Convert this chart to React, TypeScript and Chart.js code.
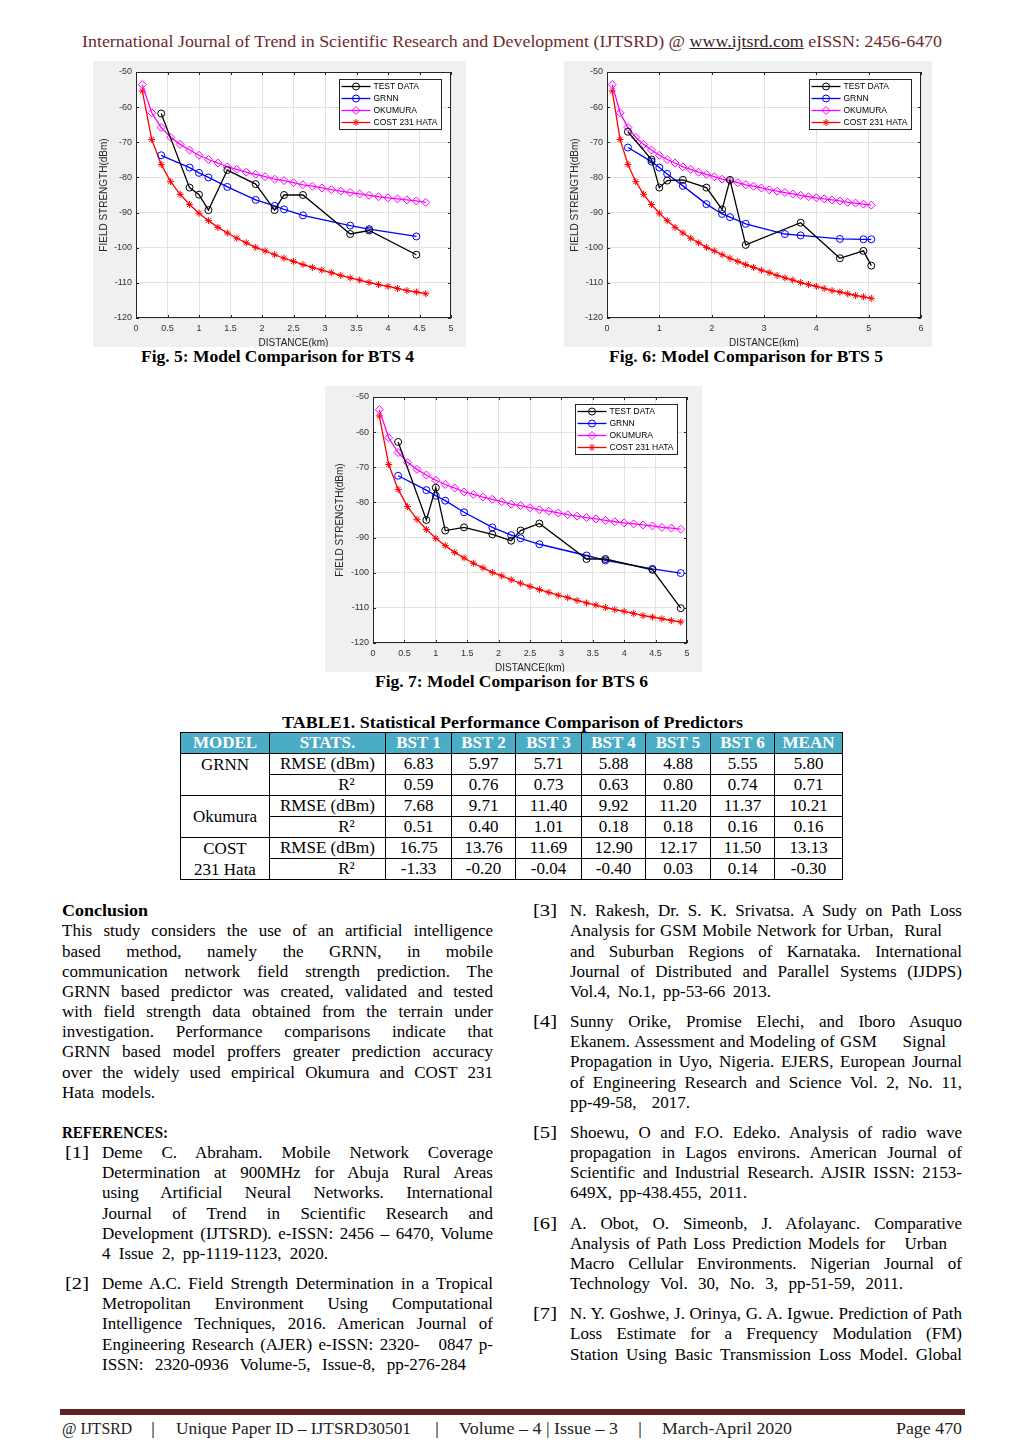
import React, { useEffect, useLayoutEffect, useRef } from "react";
import { Chart, registerables } from "chart.js";
Chart.register(...registerables);

// ---------- chart data ----------
const modelDistKm = [0.1, 0.25, 0.4, 0.55, 0.7, 0.85, 1.0, 1.15, 1.3, 1.45, 1.6, 1.75, 1.9, 2.05, 2.2, 2.35, 2.5, 2.65, 2.8, 2.95, 3.1, 3.25, 3.4, 3.55, 3.7, 3.85, 4.0, 4.15, 4.3, 4.45, 4.6, 4.75, 4.9, 5.05];
const okumuraDbm = [-53.6, -61.6, -65.8, -68.6, -70.6, -72.2, -73.7, -74.9, -75.9, -77.0, -77.7, -78.5, -79.1, -79.8, -80.5, -80.9, -81.5, -82.1, -82.5, -83.0, -83.5, -83.9, -84.3, -84.7, -85.1, -85.5, -85.8, -86.1, -86.4, -86.7, -87.1, -87.3, -87.6, -87.9];
const costHataDbm = [-55.4, -69.2, -76.3, -81.2, -84.8, -87.7, -90.2, -92.3, -94.2, -95.8, -97.3, -98.6, -99.9, -100.9, -102.0, -103.0, -103.9, -104.8, -105.6, -106.4, -107.1, -107.9, -108.6, -109.2, -109.9, -110.5, -111.0, -111.6, -112.2, -112.6, -113.1, -113.6, -114.0, -114.4];

const bts4Dist = [0.4, 0.85, 1.0, 1.15, 1.45, 1.9, 2.2, 2.35, 2.65, 3.4, 3.7, 4.45];
const bts4Test = [-61.8, -82.9, -84.9, -89.3, -77.9, -81.9, -89.3, -85.0, -85.0, -96.1, -95.1, -102.0];
const bts4Grnn = [-73.7, -77.2, -78.7, -80.0, -82.7, -86.4, -88.1, -89.1, -90.8, -93.7, -94.7, -96.8];

const bts5TestDist = [0.4, 0.85, 1.0, 1.15, 1.45, 1.9, 2.2, 2.35, 2.65, 3.7, 4.45, 4.9, 5.05];
const bts5Test = [-67.0, -74.9, -82.9, -80.9, -80.7, -82.9, -89.1, -80.7, -99.2, -92.9, -103.0, -100.9, -105.1];
const bts5GrnnDist = [0.4, 0.85, 1.0, 1.15, 1.45, 1.9, 2.2, 2.35, 2.65, 3.4, 3.7, 4.45, 4.9, 5.05];
const bts5Grnn = [-71.5, -75.5, -77.2, -79.0, -82.4, -87.6, -90.4, -91.3, -93.2, -96.1, -96.5, -97.5, -97.6, -97.6];

const bts6Dist = [0.4, 0.85, 1.0, 1.15, 1.45, 1.9, 2.2, 2.35, 2.65, 3.4, 3.7, 4.45, 4.9];
const bts6Test = [-62.8, -85.0, -75.8, -88.0, -87.1, -89.1, -90.9, -88.0, -86.0, -96.1, -96.1, -99.2, -110.1];
const bts6Grnn = [-72.4, -76.5, -78.1, -79.5, -82.8, -87.1, -89.3, -90.2, -91.9, -95.1, -96.5, -98.9, -100.1];

const seriesLabels = ["TEST DATA", "GRNN", "OKUMURA", "COST 231 HATA"];
const seriesColors = ["#000000", "#0000ff", "#ff00ff", "#ff0000"];
const seriesMarkers = ["circle", "circle", "rectRot", "star"];

// ---------- table data ----------
const tableCols = ["MODEL", "STATS.", "BST 1", "BST 2", "BST 3", "BST 4", "BST 5", "BST 6", "MEAN"];
const statNames = ["RMSE (dBm)", "R²"];
const grnnRmse = ["6.83", "5.97", "5.71", "5.88", "4.88", "5.55", "5.80"];
const grnnR2 = ["0.59", "0.76", "0.73", "0.63", "0.80", "0.74", "0.71"];
const okumuraRmse = ["7.68", "9.71", "11.40", "9.92", "11.20", "11.37", "10.21"];
const okumuraR2 = ["0.51", "0.40", "1.01", "0.18", "0.18", "0.16", "0.16"];
const costRmse = ["16.75", "13.76", "11.69", "12.90", "12.17", "11.50", "13.13"];
const costR2 = ["-1.33", "-0.20", "-0.04", "-0.40", "0.03", "0.14", "-0.30"];

const SERIF = '"Liberation Serif", "Times New Roman", serif';
const SANS = '"Liberation Sans", Arial, sans-serif';

// ---------- chart ----------
function drawMarker(ctx: CanvasRenderingContext2D, style: string, x: number, y: number, r: number) {
  ctx.beginPath();
  if (style === "circle") {
    ctx.arc(x, y, r, 0, Math.PI * 2);
  } else if (style === "rectRot") {
    ctx.moveTo(x, y - r); ctx.lineTo(x + r, y); ctx.lineTo(x, y + r); ctx.lineTo(x - r, y); ctx.closePath();
  } else {
    ctx.moveTo(x - r, y); ctx.lineTo(x + r, y);
    ctx.moveTo(x, y - r); ctx.lineTo(x, y + r);
    const d = r * 0.707;
    ctx.moveTo(x - d, y - d); ctx.lineTo(x + d, y + d);
    ctx.moveTo(x - d, y + d); ctx.lineTo(x + d, y - d);
  }
  ctx.stroke();
}

const matlabPlugin = {
  id: "matlabLook",
  beforeDraw(chart: any) {
    const { ctx, width, height, chartArea: a } = chart;
    ctx.save();
    ctx.fillStyle = "#f0f0f0";
    ctx.fillRect(0, 0, width, height);
    ctx.fillStyle = "#ffffff";
    ctx.fillRect(a.left, a.top, a.right - a.left, a.bottom - a.top);
    ctx.restore();
  },
  afterDraw(chart: any) {
    const { ctx, chartArea: a } = chart;
    const xs = chart.scales.x, ys = chart.scales.y;
    ctx.save();
    ctx.strokeStyle = "#262626";
    ctx.lineWidth = 1;
    ctx.strokeRect(a.left + 0.5, a.top + 0.5, a.right - a.left - 1, a.bottom - a.top - 1);
    ctx.beginPath();
    xs.ticks.forEach((t: any) => {
      const p = Math.round(xs.getPixelForValue(t.value)) + 0.5;
      ctx.moveTo(p, a.bottom); ctx.lineTo(p, a.bottom - 3);
      ctx.moveTo(p, a.top); ctx.lineTo(p, a.top + 3);
    });
    ys.ticks.forEach((t: any) => {
      const p = Math.round(ys.getPixelForValue(t.value)) + 0.5;
      ctx.moveTo(a.left, p); ctx.lineTo(a.left + 3, p);
      ctx.moveTo(a.right, p); ctx.lineTo(a.right - 3, p);
    });
    ctx.stroke();

    // legend
    const bw = 102, bh = 50;
    const bx = Math.round(a.right - 10 - bw) + 0.5, by = Math.round(a.top + 7) + 0.5;
    ctx.fillStyle = "#ffffff";
    ctx.fillRect(bx, by, bw, bh);
    ctx.strokeStyle = "#262626";
    ctx.strokeRect(bx, by, bw, bh);
    chart.data.datasets.forEach((ds: any, i: number) => {
      const cy = by + 7 + i * 12;
      ctx.strokeStyle = ds.borderColor;
      ctx.lineWidth = 1.3;
      ctx.beginPath();
      ctx.moveTo(bx + 2, cy); ctx.lineTo(bx + 31, cy);
      ctx.stroke();
      ctx.lineWidth = 1;
      drawMarker(ctx, ds.pointStyle, bx + 16.5, cy, ds.pointStyle === "rectRot" ? 4 : 3.5);
      ctx.fillStyle = "#000000";
      ctx.font = `8.5px ${SANS}`;
      ctx.textBaseline = "middle";
      ctx.textAlign = "left";
      ctx.fillText(ds.label, bx + 34, cy + 0.5);
    });
    ctx.restore();
  },
};

type ChartProps = {
  left: number; top: number; width: number; height: number;
  padLeft: number; padRight: number; padTop: number; padBottom: number;
  xMax: number; xStep: number; yTitlePad: number;
  testX: number[]; testY: number[]; grnnX: number[]; grnnY: number[]; modelCount: number;
};

function FieldChart(p: ChartProps) {
  const ref = useRef<HTMLCanvasElement>(null);
  useEffect(() => {
    const xsList = [p.testX, p.grnnX, modelDistKm.slice(0, p.modelCount), modelDistKm.slice(0, p.modelCount)];
    const ysList = [p.testY, p.grnnY, okumuraDbm.slice(0, p.modelCount), costHataDbm.slice(0, p.modelCount)];
    const datasets = seriesLabels.map((label, i) => ({
      label,
      data: xsList[i].map((x, j) => ({ x, y: ysList[i][j] })),
      borderColor: seriesColors[i],
      backgroundColor: "rgba(0,0,0,0)",
      borderWidth: 1.3,
      pointStyle: seriesMarkers[i],
      pointRadius: seriesMarkers[i] === "rectRot" ? 4 : 3.5,
      pointBorderColor: seriesColors[i],
      pointBackgroundColor: "rgba(0,0,0,0)",
      pointBorderWidth: 1,
      tension: 0,
      fill: false,
    }));
    const tickFont = { family: SANS, size: 9 };
    const chart = new Chart(ref.current as HTMLCanvasElement, {
      type: "line",
      data: { datasets } as any,
      options: {
        animation: false,
        responsive: false,
        maintainAspectRatio: false,
        layout: { padding: { left: 0, right: p.padRight, top: p.padTop, bottom: 0 } },
        plugins: { legend: { display: false }, tooltip: { enabled: false } },
        scales: {
          x: {
            type: "linear", min: 0, max: p.xMax,
            ticks: { stepSize: p.xStep, font: tickFont, color: "#333333", padding: 5, maxRotation: 0, autoSkip: false,
              callback: (v: any) => String(Math.round(Number(v) * 100) / 100) },
            grid: { color: "#e2e2e2", drawTicks: false, lineWidth: 1 },
            border: { display: false },
            title: { display: true, text: "DISTANCE(km)", font: { family: SANS, size: 10, lineHeight: 1.2 }, color: "#262626", padding: { top: 0, bottom: -2 } },
            afterFit: (s: any) => { s.height = p.padBottom; },
          },
          y: {
            type: "linear", min: -120, max: -50,
            ticks: { stepSize: 10, font: tickFont, color: "#333333", padding: 4 },
            grid: { color: "#e2e2e2", drawTicks: false, lineWidth: 1 },
            border: { display: false },
            title: { display: true, text: "FIELD STRENGTH(dBm)", font: { family: SANS, size: 10, lineHeight: 1.2 }, color: "#262626", padding: { top: p.yTitlePad, bottom: 0 } },
            afterFit: (s: any) => { s.width = p.padLeft; },
          },
        },
      } as any,
      plugins: [matlabPlugin as any],
    });
    return () => chart.destroy();
  }, []);
  return (
    <canvas
      ref={ref}
      width={p.width}
      height={p.height}
      style={{ position: "absolute", left: p.left, top: p.top, width: p.width, height: p.height }}
    />
  );
}

// ---------- text helpers ----------
type LineProps = {
  x: number; cy: number; w: number; text?: string; size?: number; bold?: boolean;
  color?: string; justify?: boolean; family?: string; children?: any;
};

function TextLine({ x, cy, w, text, size = 17, bold = false, color = "#000", justify = true, family = SERIF, children }: LineProps) {
  const ref = useRef<HTMLSpanElement>(null);
  useLayoutEffect(() => {
    const el = ref.current;
    if (!el) return;
    el.style.wordSpacing = "0px";
    el.style.transform = "";
    const nat = el.getBoundingClientRect().width;
    const spaces = ((text || "").match(/ /g) || []).length;
    if (justify && text && nat < w && spaces > 0) {
      el.style.wordSpacing = (w - nat) / spaces + "px";
    } else if (nat > 0) {
      el.style.transform = `scaleX(${w / nat})`;
    }
  }, [text, w]);
  return (
    <span
      ref={ref}
      style={{
        position: "absolute", left: x, top: cy - 0.51 * size, fontSize: size, lineHeight: 1,
        whiteSpace: "pre", fontWeight: bold ? 700 : 400, color, transformOrigin: "0 0", fontFamily: family,
      }}
    >
      {children ?? text}
    </span>
  );
}

const PITCH = 20.15;
const BASE = 911;
const rowY = (n: number) => BASE + PITCH * n;

type Para = { num?: string; startRow: number; lines: [string, number][] };

const leftTextX = 102, leftFull = 391;
const rightTextX = 570, rightFull = 392;

const conclusionLines: [string, number][] = [
  ["This study considers the use of an artificial intelligence", 431],
  ["based method, namely the GRNN, in mobile", 431],
  ["communication network field strength prediction. The", 431],
  ["GRNN based predictor was created, validated and tested", 431],
  ["with field strength data obtained from the terrain under", 431],
  ["investigation. Performance comparisons indicate that", 431],
  ["GRNN based model proffers greater prediction accuracy", 431],
  ["over the widely used empirical Okumura and COST 231", 431],
  ["Hata models.", 93],
];

const leftRefs: Para[] = [
  {
    num: "[1]", startRow: 12, lines: [
      ["Deme C. Abraham. Mobile Network Coverage", leftFull],
      ["Determination at 900MHz for Abuja Rural Areas", leftFull],
      ["using Artificial Neural Networks. International", leftFull],
      ["Journal of Trend in Scientific Research and", leftFull],
      ["Development (IJTSRD). e-ISSN: 2456 – 6470, Volume", leftFull],
      ["4 Issue 2, pp-1119-1123, 2020.", 226],
    ],
  },
  {
    num: "[2]", startRow: 18.5, lines: [
      ["Deme A.C. Field Strength Determination in a Tropical", leftFull],
      ["Metropolitan Environment Using Computational", leftFull],
      ["Intelligence Techniques, 2016. American Journal of", leftFull],
      ["Engineering Research (AJER) e-ISSN: 2320-   0847 p-", leftFull],
      ["ISSN: 2320-0936 Volume-5, Issue-8, pp-276-284", 364],
    ],
  },
];

const rightRefs: Para[] = [
  {
    num: "[3]", startRow: 0, lines: [
      ["N. Rakesh, Dr. S. K. Srivatsa. A Sudy on Path Loss", rightFull],
      ["Analysis for GSM Mobile Network for Urban,  Rural", 372],
      ["and Suburban Regions of Karnataka. International", rightFull],
      ["Journal of Distributed and Parallel Systems (IJDPS)", rightFull],
      ["Vol.4, No.1, pp-53-66 2013.", 201],
    ],
  },
  {
    num: "[4]", startRow: 5.5, lines: [
      ["Sunny Orike, Promise Elechi, and Iboro Asuquo", rightFull],
      ["Ekanem. Assessment and Modeling of GSM     Signal", 376],
      ["Propagation in Uyo, Nigeria. EJERS, European Journal", rightFull],
      ["of Engineering Research and Science Vol. 2, No. 11,", rightFull],
      ["pp-49-58, 2017.", 120],
    ],
  },
  {
    num: "[5]", startRow: 11, lines: [
      ["Shoewu, O and F.O. Edeko. Analysis of radio wave", rightFull],
      ["propagation in Lagos environs. American Journal of", rightFull],
      ["Scientific and Industrial Research. AJSIR ISSN: 2153-", rightFull],
      ["649X, pp-438.455, 2011.", 177],
    ],
  },
  {
    num: "[6]", startRow: 15.5, lines: [
      ["A. Obot, O. Simeonb, J. Afolayanc. Comparative", rightFull],
      ["Analysis of Path Loss Prediction Models for   Urban", 377],
      ["Macro Cellular Environments. Nigerian Journal of", rightFull],
      ["Technology Vol. 30, No. 3, pp-51-59, 2011.", 333],
    ],
  },
  {
    num: "[7]", startRow: 20, lines: [
      ["N. Y. Goshwe, J. Orinya, G. A. Igwue. Prediction of Path", rightFull],
      ["Loss Estimate for a Frequency Modulation (FM)", rightFull],
      ["Station Using Basic Transmission Loss Model. Global", rightFull],
    ],
  },
];

function Refs({ paras, numX, textX }: { paras: Para[]; numX: number; textX: number }) {
  return (
    <>
      {paras.map((p, pi) => (
        <React.Fragment key={pi}>
          <TextLine x={numX} cy={rowY(p.startRow)} w={24} text={p.num} justify={false} />
          {p.lines.map(([t, w], li) => (
            <TextLine key={li} x={textX} cy={rowY(p.startRow + li)} w={w} text={t} />
          ))}
        </React.Fragment>
      ))}
    </>
  );
}

// ---------- table ----------
const colEdges = [181, 270, 386, 452, 516, 582, 646, 711, 775, 843];
const rowEdges = [733, 754, 775, 796, 817, 838, 859, 880];

function Cell({ c0, c1, r0, r1, bg, children, align = "center", padLeft = 0, valign = "center" }: any) {
  return (
    <div
      style={{
        position: "absolute", left: colEdges[c0], top: rowEdges[r0],
        width: colEdges[c1] - colEdges[c0], height: rowEdges[r1] - rowEdges[r0],
        boxSizing: "border-box", borderRight: "1px solid #000", borderBottom: "1px solid #000",
        background: bg || "transparent", display: "flex", flexDirection: "column",
        justifyContent: valign === "top" ? "flex-start" : "center", alignItems: align,
        paddingLeft: padLeft, fontSize: 17, lineHeight: "20px", fontFamily: SERIF, whiteSpace: "pre",
      }}
    >
      {children}
    </div>
  );
}

function StatsTable() {
  const groups = [
    { name: ["GRNN"], vals: [grnnRmse, grnnR2], valign: "top" },
    { name: ["Okumura"], vals: [okumuraRmse, okumuraR2], valign: "center" },
    { name: ["COST", "231 Hata"], vals: [costRmse, costR2], valign: "center" },
  ];
  const cells: any[] = [];
  tableCols.forEach((h, ci) => {
    cells.push(
      <Cell key={"h" + ci} c0={ci} c1={ci + 1} r0={0} r1={1} bg="#4bacc6">
        <span style={{ color: "#fff", fontWeight: 700 }}>{h}</span>
      </Cell>
    );
  });
  groups.forEach((g, gi) => {
    const r = 1 + gi * 2;
    cells.push(
      <Cell key={"m" + gi} c0={0} c1={1} r0={r} r1={r + 2} valign={g.valign}>
        {g.name.map((n, k) => (
          <span key={k} style={{ display: "block", height: 21, lineHeight: "21px" }}>{n}</span>
        ))}
      </Cell>
    );
    g.vals.forEach((row, si) => {
      cells.push(
        <Cell key={`s${gi}-${si}`} c0={1} c1={2} r0={r + si} r1={r + si + 1} padLeft={si === 1 ? 38 : 0}>
          {statNames[si]}
        </Cell>
      );
      row.forEach((v, vi) => {
        cells.push(
          <Cell key={`v${gi}-${si}-${vi}`} c0={2 + vi} c1={3 + vi} r0={r + si} r1={r + si + 1}>
            {v}
          </Cell>
        );
      });
    });
  });
  return (
    <>
      <div style={{ position: "absolute", left: colEdges[0] - 1, top: rowEdges[0] - 1, width: colEdges[9] - colEdges[0] + 1, height: rowEdges[7] - rowEdges[0] + 1, borderLeft: "1px solid #000", borderTop: "1px solid #000", boxSizing: "border-box" }} />
      {cells}
    </>
  );
}

// ---------- page ----------
export default function App() {
  const maroon = "#6b2b2b";
  return (
    <div style={{ position: "absolute", left: 0, top: 0, width: 1024, height: 1449, background: "#fff", overflow: "hidden", fontFamily: SERIF, color: "#000" }}>
      <TextLine x={82} cy={42} w={860} size={17} color={maroon} justify={false}
        text="International Journal of Trend in Scientific Research and Development (IJTSRD) @ www.ijtsrd.com eISSN: 2456-6470">
        <>International Journal of Trend in Scientific Research and Development (IJTSRD) @ <span style={{ textDecoration: "underline", color: "#3b1c1c" }}>www.ijtsrd.com</span> eISSN: 2456-6470</>
      </TextLine>

      <FieldChart left={93} top={61} width={373} height={286} padLeft={43} padRight={15} padTop={11} padBottom={29}
        xMax={5} xStep={0.5} yTitlePad={5} testX={bts4Dist} testY={bts4Test} grnnX={bts4Dist} grnnY={bts4Grnn} modelCount={31} />
      <FieldChart left={564} top={61} width={368} height={286} padLeft={43} padRight={11} padTop={11} padBottom={29}
        xMax={6} xStep={1} yTitlePad={5} testX={bts5TestDist} testY={bts5Test} grnnX={bts5GrnnDist} grnnY={bts5Grnn} modelCount={34} />
      <FieldChart left={325} top={386} width={377} height={286} padLeft={48} padRight={15} padTop={11} padBottom={29}
        xMax={5} xStep={0.5} yTitlePad={9} testX={bts6Dist} testY={bts6Test} grnnX={bts6Dist} grnnY={bts6Grnn} modelCount={33} />

      <TextLine x={141} cy={357} w={273} bold justify={false} text="Fig. 5: Model Comparison for BTS 4" />
      <TextLine x={609} cy={357} w={274} bold justify={false} text="Fig. 6: Model Comparison for BTS 5" />
      <TextLine x={375} cy={682} w={273} bold justify={false} text="Fig. 7: Model Comparison for BTS 6" />

      <TextLine x={282} cy={723} w={461} bold justify={false} text="TABLE1. Statistical Performance Comparison of Predictors" />
      <StatsTable />

      <TextLine x={62} cy={rowY(0)} w={86} bold justify={false} text="Conclusion" />
      {conclusionLines.map(([t, w], i) => (
        <TextLine key={i} x={62} cy={rowY(1 + i)} w={w} text={t} />
      ))}
      <TextLine x={62} cy={rowY(11)} w={106} bold justify={false} text="REFERENCES:" />
      <Refs paras={leftRefs} numX={65} textX={leftTextX} />
      <Refs paras={rightRefs} numX={533} textX={rightTextX} />

      <div style={{ position: "absolute", left: 60, top: 1409, width: 905, height: 6, background: "#5e2222" }} />
      <TextLine x={62} cy={1429} w={70} justify={false} color="#222" text="@ IJTSRD" />
      <TextLine x={151} cy={1429} w={4} justify={false} color="#222" text="|" />
      <TextLine x={176} cy={1429} w={235} justify={false} color="#222" text="Unique Paper ID – IJTSRD30501" />
      <TextLine x={435} cy={1429} w={4} justify={false} color="#222" text="|" />
      <TextLine x={459} cy={1429} w={159} justify={false} color="#222" text="Volume – 4 | Issue – 3" />
      <TextLine x={638} cy={1429} w={4} justify={false} color="#222" text="|" />
      <TextLine x={662} cy={1429} w={130} justify={false} color="#222" text="March-April 2020" />
      <TextLine x={896} cy={1429} w={66} justify={false} color="#222" text="Page 470" />
    </div>
  );
}
